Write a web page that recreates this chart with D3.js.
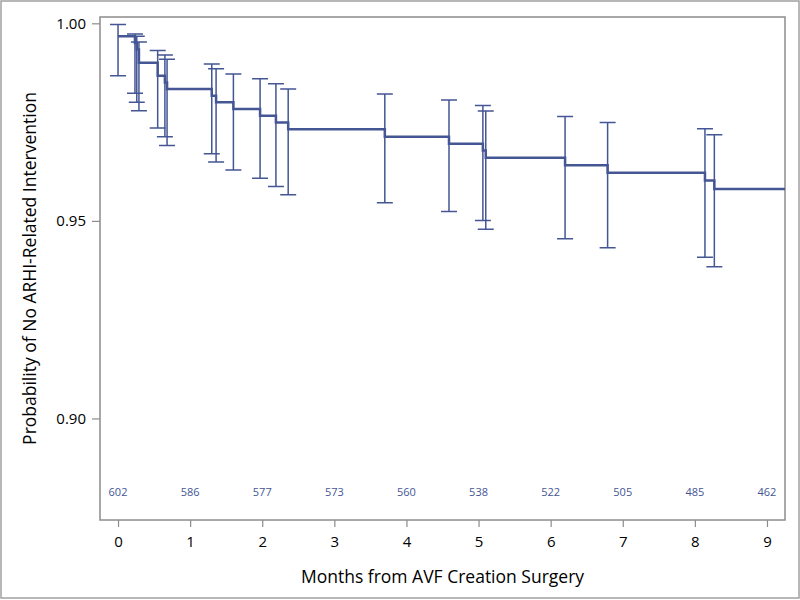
<!DOCTYPE html>
<html>
<head>
<meta charset="utf-8">
<script src="https://cdn.jsdelivr.net/npm/d3@7"></script>
<style>
  body { margin: 0; background: #fff; }
  text { font-family: "Open Sans", "DejaVu Sans", sans-serif; }
</style>
</head>
<body>
<svg id="chart" width="800" height="600"></svg>
<script>
// event times (months) with KM estimate and 95% CI at each drop
const eventTimes = [0.00, 0.235, 0.26, 0.29, 0.55, 0.65, 0.68, 1.30, 1.36, 1.60, 1.97,
                    2.19, 2.36, 3.70, 4.59, 5.06, 5.10, 6.20, 6.79, 8.14, 8.27];
const survival   = [0.9967, 0.9950, 0.9934, 0.9900, 0.9867, 0.9850, 0.9834, 0.9817, 0.9800, 0.9783, 0.9766,
                    0.9749, 0.9732, 0.9713, 0.9695, 0.9678, 0.9660, 0.9641, 0.9622, 0.9602, 0.9581];
const upperCI    = [0.9997, 0.9973, 0.9967, 0.9953, 0.9931, 0.9920, 0.9909, 0.9897, 0.9885, 0.9872, 0.9860,
                    0.9847, 0.9834, 0.9821, 0.9806, 0.9792, 0.9778, 0.9764, 0.9749, 0.9733, 0.9718];
const lowerCI    = [0.9867, 0.9823, 0.9800, 0.9779, 0.9735, 0.9713, 0.9691, 0.9670, 0.9649, 0.9629, 0.9608,
                    0.9587, 0.9566, 0.9546, 0.9524, 0.9501, 0.9479, 0.9455, 0.9432, 0.9408, 0.9384];
const followUpEnd = 9.3;

// numbers at risk
const riskTimes = [0, 1, 2, 3, 4, 5, 6, 7, 8, 9];
const atRisk = [602, 586, 577, 573, 560, 538, 522, 505, 485, 462];

const yTicks = [0.90, 0.95, 1.00];
const xTicks = [0, 1, 2, 3, 4, 5, 6, 7, 8, 9];

const color = "#445694";
const margin = {left: 100, right: 15, top: 17, bottom: 80};
const W = 800, H = 600;

let svg = d3.select("#chart");

// outer frame
svg.append("rect")
    .attr("x", 1).attr("y", 1)
    .attr("width", W - 2).attr("height", H - 3)
    .attr("fill", "none")
    .attr("stroke", "#a0a0a0")
    .attr("stroke-width", 1.5);

let x = d3.scaleLinear()
    .domain([-0.25, 9.25])
    .range([margin.left, W - margin.right]);
let y = d3.scaleLinear()
    .domain([0.8743, 1.0016])
    .range([H - margin.bottom, margin.top]);

svg.append("clipPath").attr("id", "plotClip")
    .append("rect")
    .attr("x", x.range()[0]).attr("y", y.range()[1])
    .attr("width", x.range()[1] - x.range()[0])
    .attr("height", y.range()[0] - y.range()[1]);

// axes
let xAxis = d3.axisBottom(x).tickValues(xTicks).tickFormat(d3.format("d")).tickSize(7).tickPadding(9);
let yAxis = d3.axisLeft(y).tickValues(yTicks).tickFormat(d3.format(".2f")).tickSize(8).tickPadding(6);

let gx = svg.append("g")
    .attr("transform", "translate(0," + y.range()[0] + ")")
    .call(xAxis);
let gy = svg.append("g")
    .attr("transform", "translate(" + x.range()[0] + ",0)")
    .call(yAxis);

for (let g of [gx, gy]) {
    g.select(".domain").remove();
    g.selectAll(".tick line").attr("stroke", "#8c8c8c").attr("stroke-width", 1.2);
    g.selectAll(".tick text").attr("fill", "#000").style("font-size", "15px")
        .style("font-family", "'Open Sans', sans-serif");
}

// plot border
svg.append("rect")
    .attr("x", x.range()[0]).attr("y", y.range()[1])
    .attr("width", x.range()[1] - x.range()[0])
    .attr("height", y.range()[0] - y.range()[1])
    .attr("fill", "none")
    .attr("stroke", "#8c8c8c")
    .attr("stroke-width", 1.5);

// axis titles
svg.append("text")
    .attr("x", (x.range()[0] + x.range()[1]) / 2)
    .attr("y", 583)
    .attr("text-anchor", "middle")
    .style("font-size", "17.5px")
    .text("Months from AVF Creation Surgery");

svg.append("text")
    .attr("transform", "translate(36," + (y.range()[0] + y.range()[1]) / 2 + ") rotate(-90)")
    .attr("text-anchor", "middle")
    .style("font-size", "17.5px")
    .text("Probability of No ARHI-Related Intervention");

let plot = svg.append("g").attr("clip-path", "url(#plotClip)");

// error bars
let bars = eventTimes.map((t, i) => ({t: t, lo: lowerCI[i], hi: upperCI[i]}));
let capW = 8;

plot.selectAll(".ci")
    .data(bars)
    .enter()
    .append("path")
    .attr("class", "ci")
    .attr("fill", "none")
    .attr("stroke", color)
    .attr("stroke-width", 1.5)
    .attr("d", d => {
        let cx = x(d.t), y0 = y(d.lo), y1 = y(d.hi);
        return "M" + (cx - capW) + "," + y1 + "H" + (cx + capW)
            + "M" + cx + "," + y1 + "V" + y0
            + "M" + (cx - capW) + "," + y0 + "H" + (cx + capW);
    });

// KM step curve
let steps = eventTimes.map((t, i) => ({t: t, s: survival[i]}));
steps.push({t: followUpEnd, s: survival[survival.length - 1]});

let line = d3.line()
    .x(d => x(d.t))
    .y(d => y(d.s))
    .curve(d3.curveStepAfter);

plot.append("path")
    .datum(steps)
    .attr("fill", "none")
    .attr("stroke", color)
    .attr("stroke-width", 2.5)
    .attr("d", line);

// numbers at risk
svg.selectAll(".risk")
    .data(riskTimes)
    .enter()
    .append("text")
    .attr("class", "risk")
    .attr("x", d => x(d))
    .attr("y", y.range()[0] - 24)
    .attr("text-anchor", "middle")
    .attr("fill", color)
    .style("font-size", "11px")
    .text((d, i) => atRisk[i]);
</script>
</body>
</html>
